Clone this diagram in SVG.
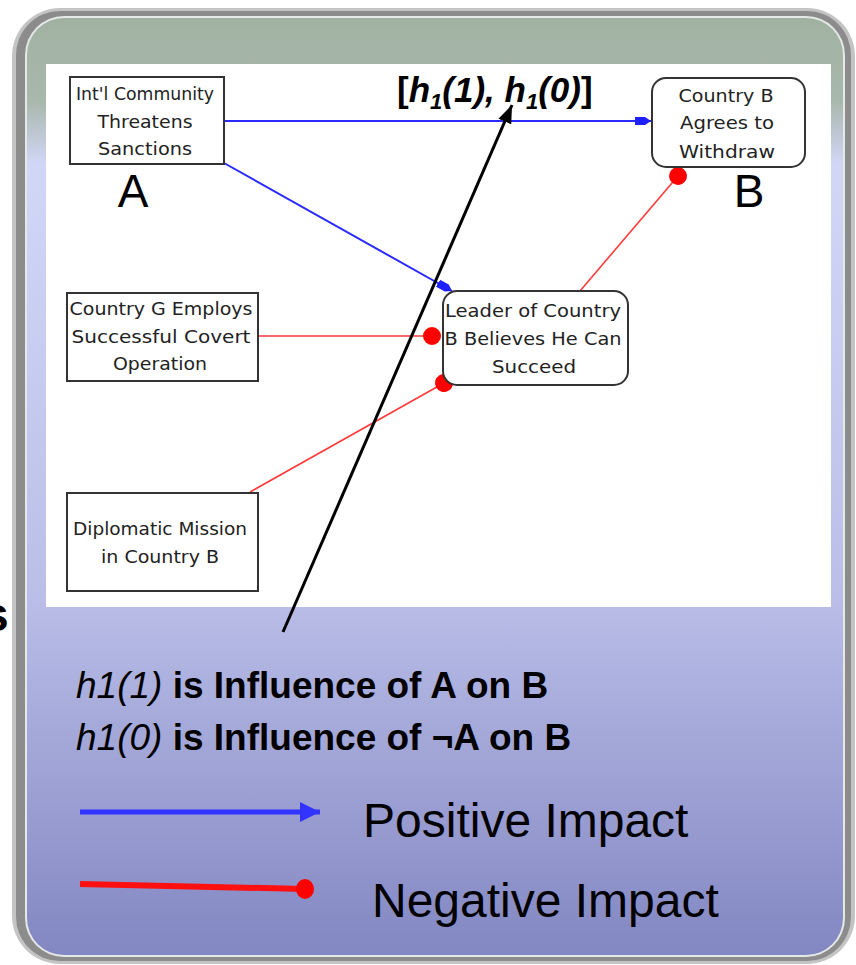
<svg xmlns="http://www.w3.org/2000/svg" width="856" height="965" viewBox="0 0 856 965">
<defs>
<linearGradient id="bg" x1="0" y1="0" x2="0" y2="1">
<stop offset="0" stop-color="#a1b1a1"/>
<stop offset="0.09" stop-color="#a9b8ad"/>
<stop offset="0.155" stop-color="#d2d6f6"/>
<stop offset="0.6" stop-color="#bcc0e9"/>
<stop offset="1" stop-color="#8387c2"/>
</linearGradient>
<marker id="blueArrow" markerUnits="userSpaceOnUse" markerWidth="18" markerHeight="12" refX="16" refY="6" orient="auto">
<path d="M0,2 L10,2 L16,6 L10,10 L0,10 Z" fill="#2020ff"/>
</marker>
<marker id="redDot" markerUnits="userSpaceOnUse" markerWidth="22" markerHeight="22" refX="11" refY="11" orient="auto">
<circle cx="11" cy="11" r="9" fill="#ff0000"/>
</marker>
<marker id="blackArrow" markerUnits="userSpaceOnUse" markerWidth="20" markerHeight="16" refX="18" refY="8" orient="auto">
<path d="M0,1 L18,8 L0,15 Z" fill="#000"/>
</marker>
<marker id="legendArrow" markerUnits="userSpaceOnUse" markerWidth="22" markerHeight="22" refX="20" refY="11" orient="auto">
<path d="M0,1 L20,11 L0,21 Z" fill="#3333ff"/>
</marker>
</defs>
<style>
.box{fill:#fff;stroke:#333;stroke-width:2}
.nt{font-family:"DejaVu Sans",Verdana,sans-serif;font-size:18px;fill:#222;text-anchor:middle}
.pos{stroke:#2a2aff;stroke-width:2;fill:none}
.neg{stroke:#ff3a3a;stroke-width:1.6;fill:none}
.big{font-family:"Liberation Sans",Arial,sans-serif;fill:#000}
</style>

<!-- frame -->
<rect x="12" y="8" width="843" height="956" rx="48" fill="#c4c4c4"/>
<rect x="16" y="11" width="835" height="950" rx="44" fill="#8c8c8c"/>
<rect x="25" y="16" width="820" height="941" rx="39" fill="#e4e8e6"/>
<rect x="27" y="18" width="816" height="937" rx="37" fill="url(#bg)"/>
<rect x="46" y="64" width="785" height="543" fill="#ffffff"/>

<text class="big" x="-18" y="631" font-size="48" font-weight="bold">s</text>

<!-- connectors -->
<g id="connectors">
<line class="pos" x1="224" y1="121" x2="651" y2="121" marker-end="url(#blueArrow)"/>
<line class="pos" x1="224" y1="163" x2="452" y2="291" marker-end="url(#blueArrow)"/>
<line class="neg" x1="258" y1="336" x2="432" y2="336" marker-end="url(#redDot)"/>
<line class="neg" x1="250" y1="492" x2="444" y2="383" marker-end="url(#redDot)"/>
<line class="neg" x1="580" y1="291" x2="678" y2="176" marker-end="url(#redDot)"/>
<line x1="283" y1="632" x2="512" y2="105" stroke="#000" stroke-width="3" marker-end="url(#blackArrow)"/>
</g>

<!-- nodes -->
<g id="nodeA">
<rect class="box" x="70" y="77" width="154" height="87"/>
<text class="nt" x="145" y="100" textLength="138" lengthAdjust="spacingAndGlyphs">Int'l Community</text>
<text class="nt" x="145" y="127.5" textLength="95" lengthAdjust="spacingAndGlyphs">Threatens</text>
<text class="nt" x="145" y="155" textLength="94" lengthAdjust="spacingAndGlyphs">Sanctions</text>
<text class="big" x="133" y="207" font-size="46" text-anchor="middle">A</text>
</g>

<g id="nodeB">
<rect class="box" x="652" y="78" width="153" height="89" rx="14"/>
<text class="nt" x="726" y="102" textLength="95" lengthAdjust="spacingAndGlyphs">Country B</text>
<text class="nt" x="727" y="129" textLength="94" lengthAdjust="spacingAndGlyphs">Agrees to</text>
<text class="nt" x="727" y="158" textLength="96" lengthAdjust="spacingAndGlyphs">Withdraw</text>
<text class="big" x="749" y="207" font-size="46" text-anchor="middle">B</text>
</g>

<g id="nodeLeader">
<rect class="box" x="443" y="291" width="185" height="94" rx="14"/>
<text class="nt" x="533" y="317" textLength="176" lengthAdjust="spacingAndGlyphs">Leader of Country</text>
<text class="nt" x="533" y="345" textLength="177" lengthAdjust="spacingAndGlyphs">B Believes He Can</text>
<text class="nt" x="534" y="373" textLength="84" lengthAdjust="spacingAndGlyphs">Succeed</text>
</g>

<g id="nodeG">
<rect class="box" x="67" y="293" width="191" height="88"/>
<text class="nt" x="161" y="315" textLength="183" lengthAdjust="spacingAndGlyphs">Country G Employs</text>
<text class="nt" x="161" y="343" textLength="179" lengthAdjust="spacingAndGlyphs">Successful Covert</text>
<text class="nt" x="160" y="370" textLength="94" lengthAdjust="spacingAndGlyphs">Operation</text>
</g>

<g id="nodeDiplomatic">
<rect class="box" x="67" y="493" width="191" height="98"/>
<text class="nt" x="160" y="535" textLength="174" lengthAdjust="spacingAndGlyphs">Diplomatic Mission</text>
<text class="nt" x="160" y="563" textLength="118" lengthAdjust="spacingAndGlyphs">in Country B</text>
</g>

<!-- label -->
<g id="label">
<text class="big" x="397" y="102" font-size="35" font-weight="bold">[<tspan font-style="italic">h</tspan><tspan font-style="italic" font-size="22" dy="7">1</tspan><tspan font-style="italic" dy="-7">(1), h</tspan><tspan font-style="italic" font-size="22" dy="7">1</tspan><tspan font-style="italic" dy="-7">(0)</tspan>]</text>
</g>

<!-- legend -->
<g id="legend">
<text class="big" x="76" y="698" font-size="37"><tspan font-style="italic">h1(1)</tspan><tspan font-weight="bold"> is Influence of A on B</tspan></text>
<text class="big" x="76" y="750" font-size="37"><tspan font-style="italic">h1(0)</tspan><tspan font-weight="bold"> is Influence of ¬A on B</tspan></text>
<line x1="80" y1="812" x2="320" y2="812" stroke="#3333ff" stroke-width="5" marker-end="url(#legendArrow)"/>
<text class="big" x="363" y="837" font-size="48">Positive Impact</text>
<line x1="80" y1="884" x2="305" y2="889" stroke="#ff1010" stroke-width="6"/>
<ellipse cx="305" cy="889" rx="9" ry="10" fill="#ff0000"/>
<text class="big" x="372" y="917" font-size="48">Negative Impact</text>
</g>
</svg>
